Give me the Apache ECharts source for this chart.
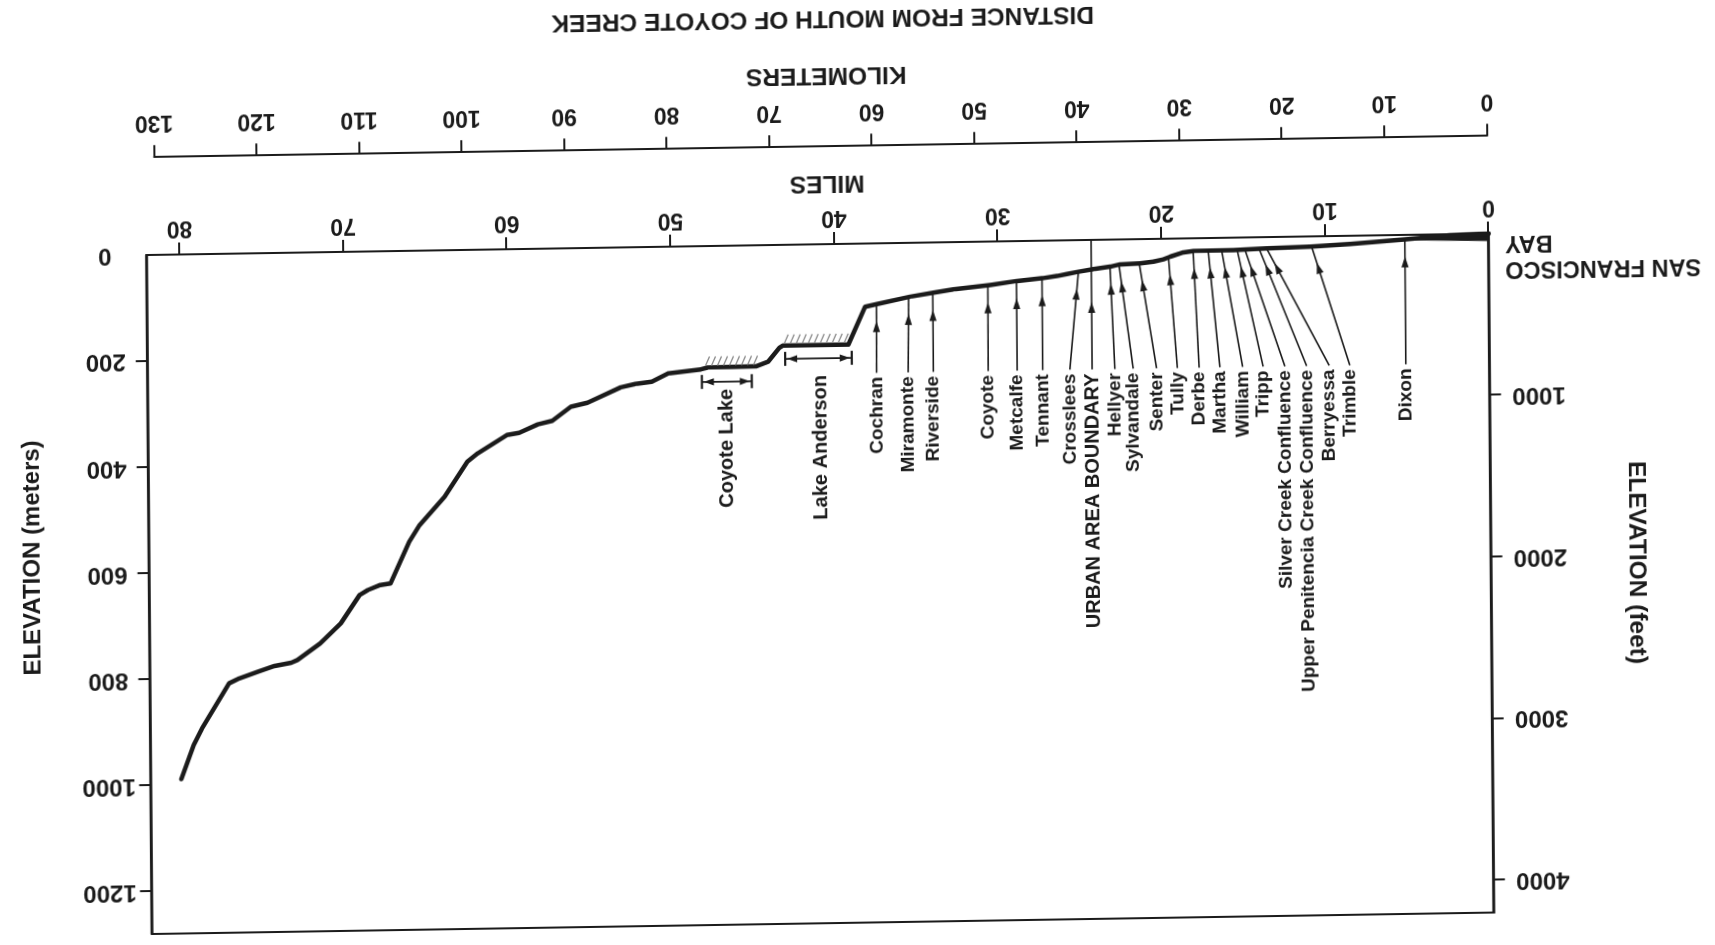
<!DOCTYPE html>
<html>
<head>
<meta charset="utf-8">
<script src="https://cdn.jsdelivr.net/npm/echarts@6/dist/echarts.min.js"></script>
<style>
html,body{margin:0;padding:0;background:#fff;overflow:hidden;width:1715px;height:945px;}
#chart{position:absolute;left:0;top:0;width:1715px;height:945px;transform-origin:0 0;
transform:matrix(-1,0.016,-0.008,-1,1720.52,919.91);}
</style>
</head>
<body>
<div id="chart"></div>
<script>
// ---------------- DATA ----------------
const milesTicks = [0, 10, 20, 30, 40, 50, 60, 70, 80];
const kmTicks = [0, 10, 20, 30, 40, 50, 60, 70, 80, 90, 100, 110, 120, 130];
const meterTicks = [0, 200, 400, 600, 800, 1000, 1200];
const feetTicks = [1000, 2000, 3000, 4000];

// stream profile: distance from mouth (miles) and elevation (meters)
const profileMiles = [0, 2.37, 5.11, 8.48, 10.92, 13.57, 15.61, 18.05, 18.66, 19.47, 19.89, 20.5, 21.32, 22.54, 23.15, 24.17, 25.09, 25.80, 26.41, 27.33, 28.86, 30.49, 32.74, 33.96, 35.38, 37.42, 38.14, 39.18, 43.2, 43.4, 44.1, 44.8, 47.8, 48.2, 50.21, 51.21, 52.22, 53.11, 55.15, 56.17, 57.31, 58.20, 59.34, 60.10, 61.88, 62.52, 63.93, 65.47, 66.11, 67.27, 67.90, 68.66, 69.17, 70.33, 71.60, 73.0, 73.38, 74.40, 75.41, 76.56, 77.19, 78.86, 79.38, 80.15];
const profileMeters = [0, 1.7, 8.3, 15.6, 19.4, 21.3, 23.4, 23.9, 26.2, 33.9, 38.8, 43.0, 45.6, 46.9, 51.1, 55.0, 59.6, 63.5, 67.1, 70.9, 75.2, 82.0, 89.0, 94.8, 101.6, 114.4, 119.1, 190.0, 190.0, 194, 220, 228, 229, 232.2, 238.8, 254.1, 257.9, 263.7, 291.6, 298.8, 324.6, 331.0, 346.3, 350.3, 383.8, 399.3, 464.7, 517.3, 548.4, 626.2, 629.1, 638.1, 647.3, 700.1, 737.3, 768.0, 772.9, 778.5, 788.9, 800.8, 809.9, 893.9, 925.1, 988.8];

// wider tidal reach near the bay
const bayWedgeMiles = [5.1, 5.1, 0, 0];
const bayWedgeMeters = [6, 10.5, 14, 0];

// crossings / landmarks
const markerNames = ['Cochran', 'Miramonte', 'Riverside', 'Coyote', 'Metcalfe', 'Tennant', 'Crosslees', 'URBAN AREA BOUNDARY', 'Hellyer', 'Sylvandale', 'Senter', 'Tully', 'Derbe', 'Martha', 'William', 'Tripp', 'Silver Creek Confluence', 'Upper Penitencia Creek Confluence', 'Berryessa', 'Trimble', 'Dixon'];
const markerLabelMiles = [37.47, 35.54, 34.0, 30.65, 28.88, 27.32, 25.66, 24.3, 22.91, 21.79, 20.36, 19.09, 17.76, 16.49, 15.10, 13.85, 12.52, 11.19, 9.81, 8.55, 5.13];
const markerTargetMiles = [37.45, 35.48, 34.0, 30.63, 28.88, 27.32, 25.09, 24.3, 23.16, 22.61, 21.37, 19.58, 18.07, 17.15, 16.33, 15.38, 14.91, 14.04, 13.58, 10.83, 5.13];
const markerTargetMeters = [114.5, 102, 95, 82.4, 75.3, 70.9, 59.6, 0, 51.1, 47.4, 45.7, 35.2, 24.0, 23.7, 23.5, 23.2, 22.7, 21.8, 21.3, 19.3, 8.3];
const markerLabelMeters = [244, 244, 244, 244, 244, 244, 244, 244, 244, 244, 244, 244, 244, 244, 244, 244, 244, 244, 244, 244, 244];

// reservoirs
const lakeNames = ['Coyote Lake', 'Lake Anderson'];
const lakeStartMiles = [44.8, 39.25];
const lakeEndMiles = [48.2, 43.2];
const lakeLevelMeters = [229, 190];
const lakeBracketStartMiles = [45.1, 38.98];
const lakeBracketEndMiles = [48.15, 43.05];
const lakeBracketMeters = [256, 215];
const lakeLabelMiles = [46.63, 40.92];
const lakeLabelMeters = [266, 243];

const FT_PER_M = 3.28084;
const Y_MAX_M = 1280;
const X_MAX_MI = 82;

// ---------------- CHART ----------------
const FONT = "'Liberation Sans', Arial, Helvetica, sans-serif";
const INK = '#1b1b1b';
const chart = echarts.init(document.getElementById('chart'), null, {renderer: 'canvas', width: 1715, height: 945});

const profileData = profileMiles.map((m, i) => [m, profileMeters[i]]);
const markerData = markerNames.map((n, i) => [markerLabelMiles[i], markerTargetMiles[i], markerTargetMeters[i], markerLabelMeters[i]]);
const lakeData = lakeNames.map((n, i) => [lakeStartMiles[i], lakeEndMiles[i], lakeLevelMeters[i], lakeBracketStartMiles[i], lakeBracketEndMiles[i], lakeBracketMeters[i], lakeLabelMiles[i], lakeLabelMeters[i]]);

function textStyle(txt, size, align) {
  return {text: txt, fontSize: size, fontWeight: 'bold', fontFamily: FONT, fill: INK,
          align: align, textAlign: align, verticalAlign: 'middle', textVerticalAlign: 'middle'};
}

function renderMarker(params, api) {
  const i = params.dataIndex;
  const p1 = api.coord([api.value(1), api.value(2)]);
  const p2 = api.coord([api.value(0), api.value(3)]);
  const dx = p1[0] - p2[0], dy = p1[1] - p2[1];
  const len = Math.hypot(dx, dy) || 1;
  const ux = dx / len, uy = dy / len;
  const off = api.value(2) === 0 ? 62 : 17;
  const tip = [p1[0] - ux * off, p1[1] - uy * off];
  const base = [tip[0] - ux * 11, tip[1] - uy * 11];
  const nx = -uy * 3.6, ny = ux * 3.6;
  const isCaps = markerNames[i] === markerNames[i].toUpperCase();
  return {type: 'group', children: [
    {type: 'line', shape: {x1: p2[0], y1: p2[1], x2: p1[0], y2: p1[1]}, style: {stroke: INK, lineWidth: 1.6}},
    {type: 'polygon', shape: {points: [tip, [base[0] + nx, base[1] + ny], [base[0] - nx, base[1] - ny]]}, style: {fill: INK}},
    {type: 'text', x: p2[0], y: p2[1] - 4, rotation: -Math.PI / 2, style: textStyle(markerNames[i], isCaps ? 20 : 19, 'right')}
  ]};
}

function renderLake(params, api) {
  const i = params.dataIndex;
  const s = api.coord([api.value(0), api.value(2)]);
  const e = api.coord([api.value(1), api.value(2)]);
  const children = [];
  for (let px = s[0] + 3; px <= e[0]; px += 6) {
    children.push({type: 'line', shape: {x1: px, y1: s[1] + 2, x2: px - 4, y2: s[1] + 11}, style: {stroke: '#8a8a8a', lineWidth: 1.3}});
  }
  const b1 = api.coord([api.value(3), api.value(5)]);
  const b2 = api.coord([api.value(4), api.value(5)]);
  const y = b1[1];
  children.push({type: 'line', shape: {x1: b1[0], y1: y, x2: b2[0], y2: y}, style: {stroke: INK, lineWidth: 1.8}});
  children.push({type: 'line', shape: {x1: b1[0], y1: y - 7, x2: b1[0], y2: y + 7}, style: {stroke: INK, lineWidth: 2.2}});
  children.push({type: 'line', shape: {x1: b2[0], y1: y - 7, x2: b2[0], y2: y + 7}, style: {stroke: INK, lineWidth: 2.2}});
  children.push({type: 'polygon', shape: {points: [[b1[0] + 2, y], [b1[0] + 12, y - 3.6], [b1[0] + 12, y + 3.6]]}, style: {fill: INK}});
  children.push({type: 'polygon', shape: {points: [[b2[0] - 2, y], [b2[0] - 12, y - 3.6], [b2[0] - 12, y + 3.6]]}, style: {fill: INK}});
  const l = api.coord([api.value(6), api.value(7)]);
  children.push({type: 'text', x: l[0], y: l[1] - 2, rotation: -Math.PI / 2, style: textStyle(lakeNames[i], 20, 'right')});
  return {type: 'group', children: children};
}

function renderWedge(params, api) {
  const pts = bayWedgeMiles.map((m, i) => api.coord([m, bayWedgeMeters[i]]));
  return {type: 'polygon', shape: {points: pts}, style: {fill: INK}};
}

const axisLine = {show: true, onZero: false, lineStyle: {color: INK, width: 2.2}};
const plain = v => String(v);
const labelBase = {fontWeight: 'bold', fontFamily: FONT, color: INK, formatter: plain};

const option = {
  animation: false,
  backgroundColor: '#ffffff',
  grid: [
    {left: 226.3, top: 11, width: 1342, height: 679, show: true, borderColor: INK, borderWidth: 2.2, backgroundColor: 'transparent', containLabel: false, outerBoundsMode: 'none'},
    {left: 227.2, top: 786.8, width: 1333, height: 1, show: false, containLabel: false, outerBoundsMode: 'none'}
  ],
  xAxis: [
    {type: 'value', gridIndex: 0, position: 'bottom', min: 0, max: X_MAX_MI,
     axisLine: axisLine,
     axisTick: {show: true, inside: false, length: 12, customValues: milesTicks, lineStyle: {color: INK, width: 2}},
     axisLabel: Object.assign({show: true, customValues: milesTicks, margin: 15, fontSize: 23}, labelBase),
     splitLine: {show: false}},
    {type: 'value', gridIndex: 1, position: 'bottom', min: 0, max: 130, interval: 10,
     axisLine: axisLine,
     axisTick: {show: true, inside: false, length: 12, customValues: kmTicks, lineStyle: {color: INK, width: 2}},
     axisLabel: Object.assign({show: true, customValues: kmTicks, margin: 23, fontSize: 23}, labelBase),
     splitLine: {show: false}}
  ],
  yAxis: [
    {type: 'value', gridIndex: 0, position: 'right', min: 0, max: Y_MAX_M,
     axisLine: axisLine,
     axisTick: {show: true, inside: false, length: 12, customValues: meterTicks.filter(v => v > 0), lineStyle: {color: INK, width: 2}},
     axisLabel: Object.assign({show: true, customValues: meterTicks, margin: 42, fontSize: 24, align: 'center'}, labelBase),
     splitLine: {show: false}},
    {type: 'value', gridIndex: 0, position: 'left', min: 0, max: Y_MAX_M * FT_PER_M,
     axisLine: axisLine,
     axisTick: {show: true, inside: false, length: 11, customValues: feetTicks, lineStyle: {color: INK, width: 2}},
     axisLabel: Object.assign({show: true, customValues: feetTicks, margin: 49, fontSize: 24, align: 'center'}, labelBase),
     splitLine: {show: false}},
    {type: 'value', gridIndex: 1, show: false, min: 0, max: 1}
  ],
  series: [
    {type: 'line', name: 'Coyote Creek profile', xAxisIndex: 0, yAxisIndex: 0, data: profileData,
     symbol: 'none', showSymbol: false, silent: true, z: 3,
     lineStyle: {color: INK, width: 4.5, join: 'round', cap: 'round'}},
    {type: 'custom', name: 'bay', xAxisIndex: 0, yAxisIndex: 0, data: [[0, 0]], renderItem: renderWedge, silent: true, z: 3, clip: false},
    {type: 'custom', name: 'markers', xAxisIndex: 0, yAxisIndex: 0, data: markerData, renderItem: renderMarker,
     encode: {x: [0, 1], y: [2, 3]}, silent: true, z: 4, clip: false},
    {type: 'custom', name: 'lakes', xAxisIndex: 0, yAxisIndex: 0, data: lakeData, renderItem: renderLake,
     encode: {x: [0, 1, 3, 4, 6], y: [2, 5, 7]}, silent: true, z: 4, clip: false}
  ],
  graphic: [
    {type: 'text', x: 890.6, y: 915.9, style: textStyle('DISTANCE FROM MOUTH OF COYOTE CREEK', 24.5, 'center')},
    {type: 'text', x: 887.6, y: 859.1, style: textStyle('KILOMETERS', 24.5, 'center')},
    {type: 'text', x: 887.5, y: 750.8, style: textStyle('MILES', 24.5, 'center')},
    {type: 'text', x: 1684.6, y: 389, rotation: -Math.PI / 2, style: textStyle('ELEVATION (meters)', 24, 'center')},
    {type: 'text', x: 81, y: 358.7, rotation: Math.PI / 2, style: textStyle('ELEVATION (feet)', 24.5, 'center')},
    {type: 'text', x: 210, y: 654.6, style: textStyle('SAN FRANCISCO', 23.5, 'right')},
    {type: 'text', x: 210, y: 680.6, style: textStyle('BAY', 23.5, 'right')}
  ]
};
chart.setOption(option);
</script>
</body>
</html>
